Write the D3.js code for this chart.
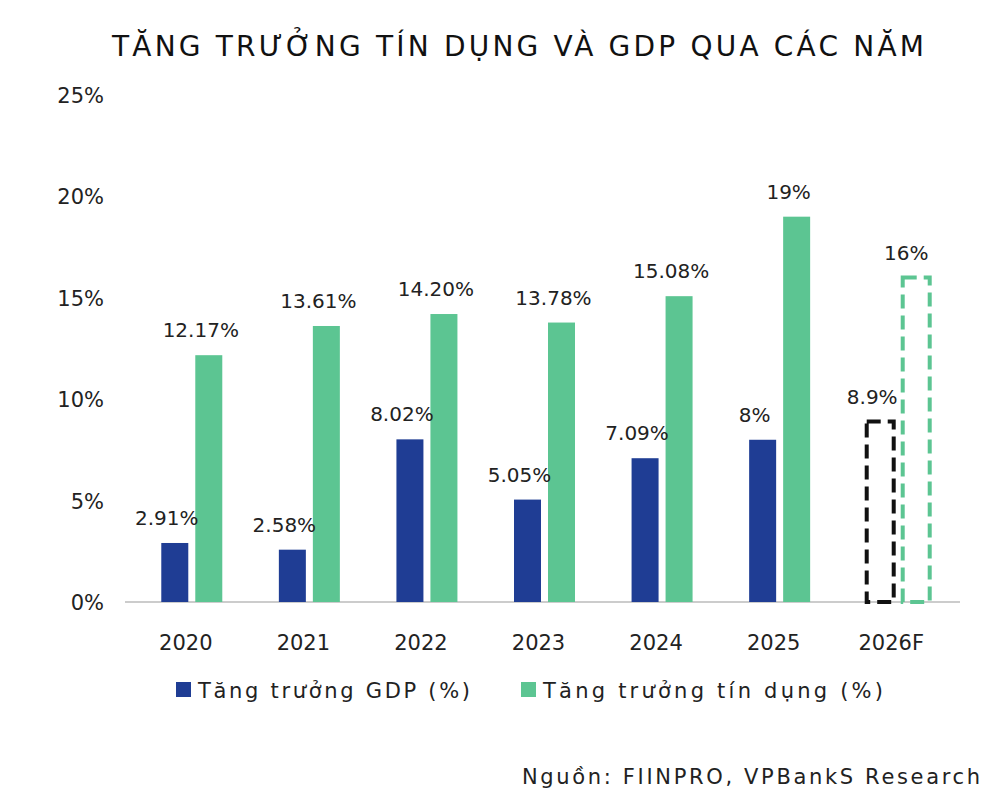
<!DOCTYPE html>
<html lang="vi">
<meta charset="utf-8">
<title>Tăng trưởng tín dụng và GDP</title>
<script src="https://cdn.jsdelivr.net/npm/d3@7"></script>
<style>
  body { margin: 0; background: #fff; font-family: "DejaVu Sans", sans-serif; }
</style>
<body>
<svg id="chart" width="1000" height="807"></svg>
<script>
  // Data
  var years = ["2020", "2021", "2022", "2023", "2024", "2025", "2026F"];
  var gdp = [2.91, 2.58, 8.02, 5.05, 7.09, 8, 8.9];
  var gdpLabels = ["2.91%", "2.58%", "8.02%", "5.05%", "7.09%", "8%", "8.9%"];
  var credit = [12.17, 13.61, 14.20, 13.78, 15.08, 19, 16];
  var creditLabels = ["12.17%", "13.61%", "14.20%", "13.78%", "15.08%", "19%", "16%"];
  var yTicks = [0, 5, 10, 15, 20, 25];
  var forecast = "2026F";

  var blue = "#1f3d94", green = "#5cc592";
  var svg = d3.select("#chart");

  var x = d3.scaleBand().domain(years).range([133, 956]);
  var y = d3.scaleLinear().domain([0, 25]).range([602, 95]);
  var barW = 27, gap = 7;

  svg.append("text").attr("x", 518).attr("y", 56).attr("text-anchor", "middle")
    .attr("font-size", 28).attr("fill", "#111").attr("textLength", 812)
    .text("TĂNG TRƯỞNG TÍN DỤNG VÀ GDP QUA CÁC NĂM");

  // y tick labels
  svg.selectAll(".yt").data(yTicks).enter().append("text")
    .attr("x", 104).attr("y", function(d) { return y(d) + 8; })
    .attr("text-anchor", "end").attr("font-size", 21).attr("fill", "#222")
    .text(function(d) { return d + "%"; });

  // baseline
  svg.append("line").attr("x1", 125).attr("x2", 960).attr("y1", y(0)).attr("y2", y(0))
    .attr("stroke", "#bbb").attr("stroke-width", 1.5);

  function cx(d) { return x(d) + x.bandwidth() / 2; }

  years.forEach(function(yr, i) {
    var c = cx(yr);
    var isF = yr === forecast;
    var gx = c - gap / 2 - barW, kx = c + gap / 2;
    if (isF) {
      svg.append("rect").attr("x", gx).attr("y", y(gdp[i])).attr("width", barW)
        .attr("height", y(0) - y(gdp[i])).attr("fill", "none").attr("stroke", "#111")
        .attr("stroke-width", 4).attr("stroke-dasharray", "14,7");
      svg.append("rect").attr("x", kx + 2).attr("y", y(credit[i])).attr("width", barW)
        .attr("height", y(0) - y(credit[i])).attr("fill", "none").attr("stroke", green)
        .attr("stroke-width", 4).attr("stroke-dasharray", "14,7");
    } else {
      svg.append("rect").attr("x", gx).attr("y", y(gdp[i])).attr("width", barW)
        .attr("height", y(0) - y(gdp[i])).attr("fill", blue);
      svg.append("rect").attr("x", kx).attr("y", y(credit[i])).attr("width", barW)
        .attr("height", y(0) - y(credit[i])).attr("fill", green);
    }
    svg.append("text").attr("x", gx + barW / 2 - 8).attr("y", y(gdp[i]) - 18)
      .attr("text-anchor", "middle").attr("font-size", 20).attr("fill", "#222").text(gdpLabels[i]);
    svg.append("text").attr("x", kx + barW / 2 - 8).attr("y", y(credit[i]) - 18)
      .attr("text-anchor", "middle").attr("font-size", 20).attr("fill", "#222").text(creditLabels[i]);
    svg.append("text").attr("x", c - 6).attr("y", 650).attr("text-anchor", "middle")
      .attr("font-size", 21).attr("fill", "#222").text(yr);
  });

  // legend
  var legend = [["Tăng trưởng GDP (%)", blue, 176, 272], ["Tăng trưởng tín dụng (%)", green, 521, 340]];
  legend.forEach(function(l) {
    svg.append("rect").attr("x", l[2]).attr("y", 682).attr("width", 15).attr("height", 15).attr("fill", l[1]);
    svg.append("text").attr("x", l[2] + 22).attr("y", 698).attr("font-size", 21).attr("fill", "#222")
      .attr("textLength", l[3]).text(l[0]);
  });

  svg.append("text").attr("x", 980).attr("y", 784).attr("text-anchor", "end")
    .attr("font-size", 21).attr("fill", "#222").attr("textLength", 458)
    .text("Nguồn: FIINPRO, VPBankS Research");
</script>
</body>
</html>
